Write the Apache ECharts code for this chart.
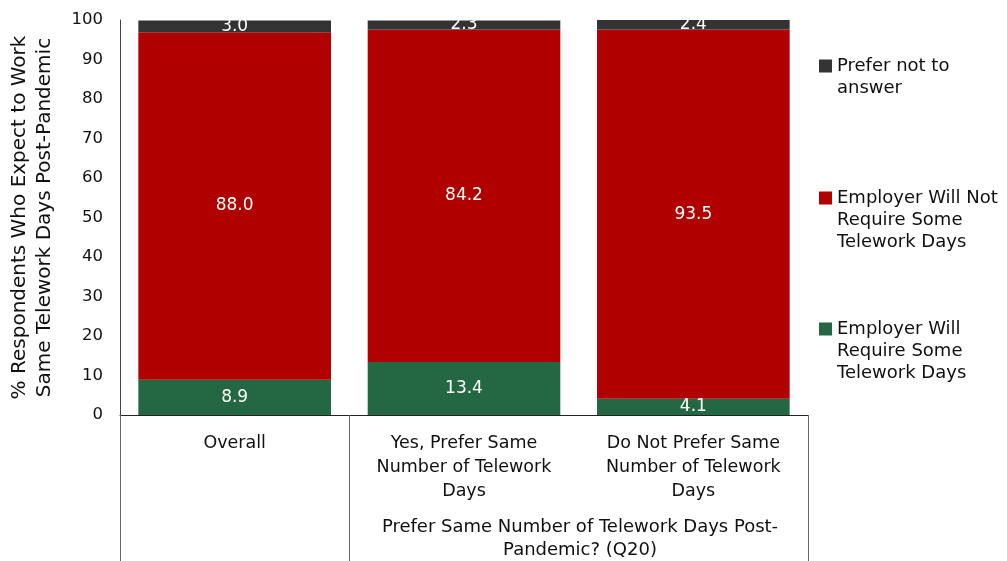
<!DOCTYPE html>
<html>
<head>
<meta charset="utf-8">
<script src="https://cdn.jsdelivr.net/npm/echarts@6/dist/echarts.min.js"></script>
<style>
  html, body { margin: 0; padding: 0; background: #fff; }
  #main { width: 1007px; height: 561px; }
</style>
</head>
<body>
<div id="main"></div>
<script>
// categories under the bars
var categories = ['Overall', 'Yes, Prefer Same\nNumber of Telework\nDays', 'Do Not Prefer Same\nNumber of Telework\nDays'];
var groupLabel = 'Prefer Same Number of Telework Days Post-\nPandemic? (Q20)';

// series values (percent), bottom to top
var willRequire = [8.9, 13.4, 4.1];
var willNotRequire = [88.0, 84.2, 93.5];
var preferNot = [3.0, 2.3, 2.4];

var seriesNames = ['Employer Will Require Some Telework Days', 'Employer Will Not Require Some Telework Days', 'Prefer not to answer'];
var legendLabels = ['Employer Will\nRequire Some\nTelework Days', 'Employer Will Not\nRequire Some\nTelework Days', 'Prefer not to\nanswer'];
var colors = ['#236842', '#b00000', '#333333'];

var font = 'DejaVu Sans';

var myChart = echarts.init(document.getElementById('main'));

function makeSeries(i, data) {
  return {
    name: seriesNames[i],
    type: 'bar',
    stack: 'total',
    barWidth: '84%',
    data: data,
    itemStyle: { color: colors[i] },
    label: {
      show: true,
      position: 'inside',
      color: '#fff',
      fontFamily: font,
      fontSize: 17,
      formatter: function (p) { return p.value.toFixed(1) }
    }
  }
}

// legend drawn on the right, top item first
var legendCenters = [329, 198, 66];
var legendGraphics = [];
for (var i = 0; i < 3; i++) {
  legendGraphics.push({
    type: 'rect',
    shape: { x: 819, y: legendCenters[i] - 6.5, width: 13, height: 13 },
    style: { fill: colors[i] }
  });
  legendGraphics.push({
    type: 'text',
    x: 837,
    y: legendCenters[i] - 11,
    style: {
      text: legendLabels[i],
      fontFamily: font,
      fontSize: 18,
      lineHeight: 22,
      verticalAlign: 'top',
      fill: '#111'
    }
  });
}
legendGraphics.push({
  type: 'text',
  x: 580,
  y: 516,
  style: {
    text: groupLabel,
    fontFamily: font,
    fontSize: 18,
    lineHeight: 23,
    align: 'center',
    verticalAlign: 'top',
    fill: '#111'
  }
});

var option = {
  animation: false,
  grid: { left: 120, right: 199, top: 20, bottom: 146, outerBoundsMode: 'none', containLabel: false },
  xAxis: {
    type: 'category',
    data: categories,
    axisLine: { show: true, lineStyle: { color: '#222', width: 1 } },
    axisTick: {
      show: true,
      length: 146,
      interval: function (index) { return index < 2 },
      lineStyle: { color: '#666', width: 1 }
    },
    axisLabel: {
      interval: 0,
      margin: 16,
      color: '#111',
      fontFamily: font,
      fontSize: 17.5,
      lineHeight: 24
    }
  },
  yAxis: {
    type: 'value',
    min: 0,
    max: 100,
    interval: 10,
    name: '% Respondents Who Expect to Work\nSame Telework Days Post-Pandemic',
    nameLocation: 'middle',
    nameRotate: 90,
    nameGap: 63,
    nameTextStyle: { color: '#111', fontFamily: font, fontSize: 20, lineHeight: 25 },
    axisLine: { show: true, lineStyle: { color: '#444', width: 1 } },
    axisTick: { show: false },
    splitLine: { show: false },
    axisLabel: { color: '#111', fontFamily: font, fontSize: 16.5, margin: 17 }
  },
  series: [
    makeSeries(0, willRequire),
    makeSeries(1, willNotRequire),
    makeSeries(2, preferNot)
  ],
  graphic: legendGraphics
};

myChart.setOption(option);
</script>
</body>
</html>
